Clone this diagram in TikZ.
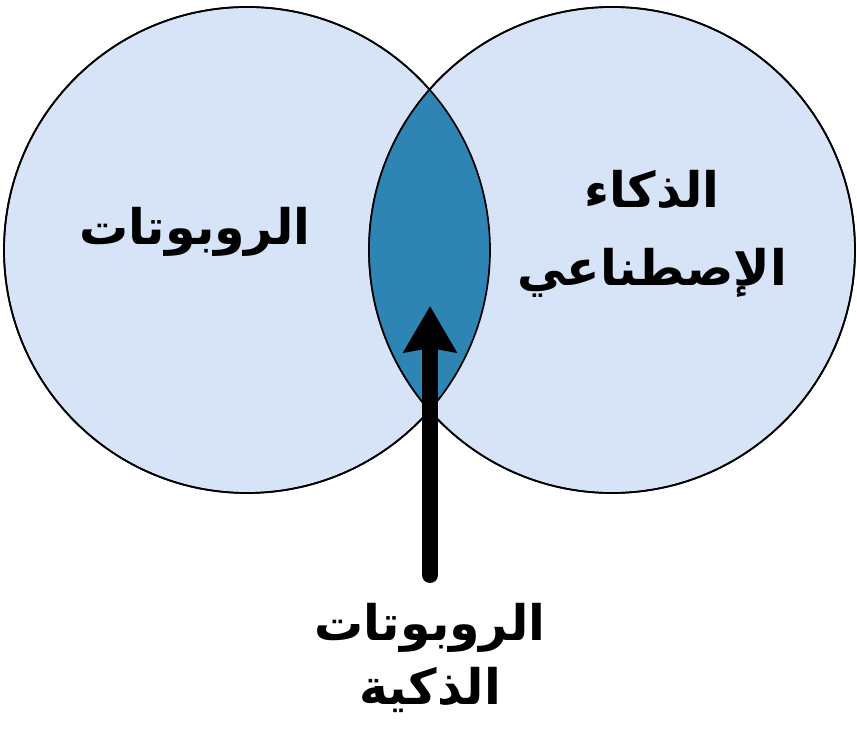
\documentclass[tikz,border=0pt]{standalone}
\usepackage{fontspec}
\TeXXeTstate=1
\newfontfamily\arabicfont[Script=Arabic]{DejaVu Sans}
\usetikzlibrary{arrows.meta}
\definecolor{circfill}{HTML}{D7E4F8}
\definecolor{lensfill}{HTML}{2E84B2}
\begin{document}
\begin{tikzpicture}[x=1pt,y=-1pt,
  venn/.style={circle, draw=black, line width=1.7pt, fill=circfill, minimum size=486pt, inner sep=0pt},
  lbl/.style={font=\arabicfont\bfseries\fontsize{49}{62}\selectfont, align=center, inner sep=0pt},
  arr/.style={line width=16pt, line cap=round, -{Stealth[length=46pt,width=52pt,inset=4pt]}}]
\useasboundingbox (0,0) rectangle (857,735);
\node[venn] (L) at (247,250) {};
\node[venn] (R) at (612,250) {};
\begin{scope}
  \clip (L.center) circle (243);
  \fill[lensfill] (R.center) circle (243);
\end{scope}
\draw[line width=1.7pt] (L.center) circle (243);
\draw[line width=1.7pt] (R.center) circle (243);
\node[lbl] (robots) at (195,232) {\beginR الروبوتات\endR};
\node[lbl] (ai) at (652,234) {\beginR الذكاء\endR\\[16pt]\beginR الإصطناعي\endR};
\node[lbl] (smart) at (430,658) {\beginR الروبوتات\endR\\[2pt]\beginR الذكية\endR};
\coordinate (start) at (430,575);
\coordinate (tip) at (430,306);
\draw[arr] (start) -- (tip);
\end{tikzpicture}
\end{document}
